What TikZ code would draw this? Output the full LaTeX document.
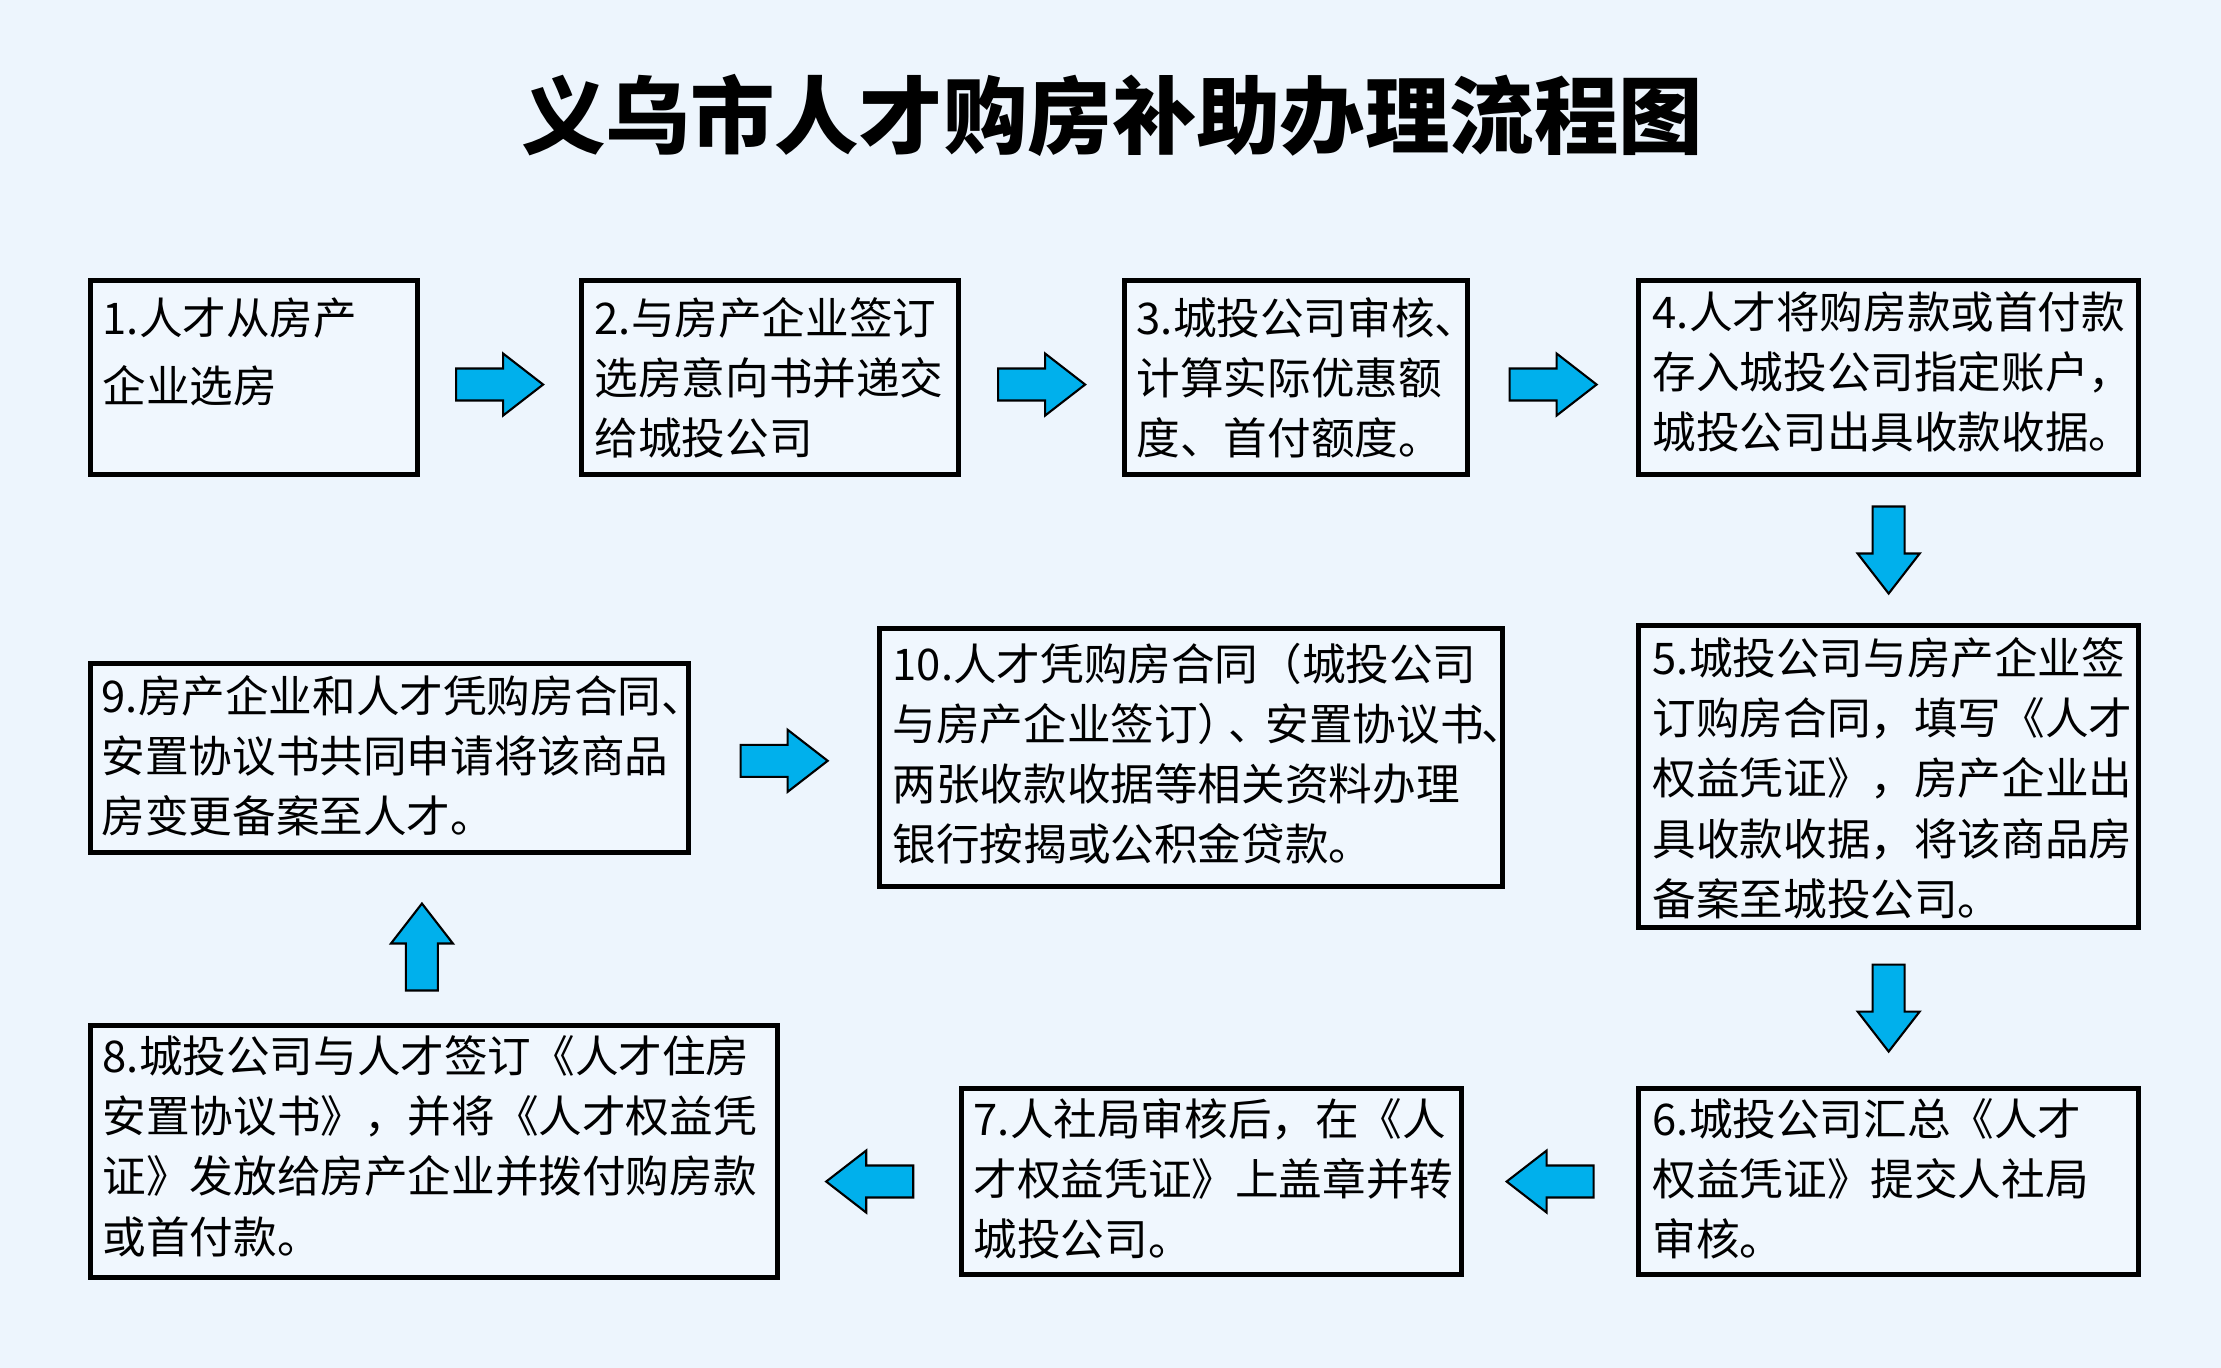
\documentclass[tikz,border=0pt]{standalone}
\usepackage{fontspec}
\setmainfont{Noto Sans CJK SC}
\usetikzlibrary{calc}
\definecolor{bgcol}{RGB}{237,245,253}
\definecolor{boxfill}{RGB}{240,247,254}
\definecolor{arrowblue}{RGB}{0,176,236}
\tikzset{
  stepbox/.style={draw=black, line width=0.05cm, fill=boxfill, rectangle, inner sep=0pt, anchor=north west},
  txt/.style={anchor=north west, inner sep=0pt, align=left, font=\fontsize{12.4pt}{17.1pt}\selectfont},
  barrow/.pic={
    \draw[fill=arrowblue, draw=black, line width=0.6pt, line join=miter]
      (-43.5,-16) -- (3.5,-16) -- (3.5,-31) -- (43.5,0) -- (3.5,31) -- (3.5,16) -- (-43.5,16) -- cycle;
  }
}
\begin{document}
\begin{tikzpicture}[x=0.01cm, y=-0.01cm]
\fill[bgcol] (0,0) rectangle (2221,1368);
\useasboundingbox (0,0) rectangle (2221,1368);

\node[inner sep=0pt, font=\fontsize{24pt}{24pt}\selectfont\bfseries] (title) at (1112,115) {义乌市人才购房补助办理流程图};

% boxes
\node[stepbox, minimum width=3.27cm, minimum height=1.94cm] (b1) at (88,278) {};
\node[stepbox, minimum width=3.77cm, minimum height=1.94cm] (b2) at (579,278) {};
\node[stepbox, minimum width=3.43cm, minimum height=1.94cm] (b3) at (1122,278) {};
\node[stepbox, minimum width=5.00cm, minimum height=1.94cm] (b4) at (1636,278) {};
\node[stepbox, minimum width=5.00cm, minimum height=3.02cm] (b5) at (1636,623) {};
\node[stepbox, minimum width=5.00cm, minimum height=1.86cm] (b6) at (1636,1086) {};
\node[stepbox, minimum width=5.00cm, minimum height=1.86cm] (b7) at (959,1086) {};
\node[stepbox, minimum width=6.87cm, minimum height=2.52cm] (b8) at (88,1023) {};
\node[stepbox, minimum width=5.98cm, minimum height=1.89cm] (b9) at (88,661) {};
\node[stepbox, minimum width=6.23cm, minimum height=2.58cm] (b10) at (877,626) {};

% texts
\node[txt, font=\fontsize{12.4pt}{19.35pt}\selectfont] (t1) at ([xshift=0.14cm, yshift=-0.19cm]b1.north west) {1.人才从房产\\企业选房};
\node[txt] (t2) at ([xshift=0.15cm, yshift=-0.19cm]b2.north west) {2.与房产企业签订\\选房意向书并递交\\给城投公司};
\node[txt] (t3) at ([xshift=0.14cm, yshift=-0.19cm]b3.north west) {3.城投公司审核、\\计算实际优惠额\\度、首付额度。};
\node[txt] (t4) at ([xshift=0.16cm, yshift=-0.13cm]b4.north west) {4.人才将购房款或首付款\\存入城投公司指定账户，\\城投公司出具收款收据。};
\node[txt] (t5) at ([xshift=0.16cm, yshift=-0.14cm]b5.north west) {5.城投公司与房产企业签\\订购房合同，填写《人才\\权益凭证》，房产企业出\\具收款收据，将该商品房\\备案至城投公司。};
\node[txt] (t6) at ([xshift=0.16cm, yshift=-0.12cm]b6.north west) {6.城投公司汇总《人才\\权益凭证》提交人社局\\审核。};
\node[txt] (t7) at ([xshift=0.14cm, yshift=-0.12cm]b7.north west) {7.人社局审核后，在《人\\才权益凭证》上盖章并转\\城投公司。};
\node[txt] (t8) at ([xshift=0.14cm, yshift=-0.12cm]b8.north west) {8.城投公司与人才签订《人才住房\\安置协议书》，并将《人才权益凭\\证》发放给房产企业并拨付购房款\\或首付款。};
\node[txt] (t9) at ([xshift=0.13cm, yshift=-0.14cm]b9.north west) {9.房产企业和人才凭购房合同、\\安置协议书共同申请将该商品\\房变更备案至人才。};
\node[txt] (t10) at ([xshift=0.15cm, yshift=-0.16cm]b10.north west) {10.人才凭购房合同（城投公司\\与房产企业签订）\kern-0.3em、\kern-0.15em安置协议书\kern-0.05em、\\两张收款收据等相关资料办理\\银行按揭或公积金贷款。};

% block arrows between boxes
\pic at ($(b1.east)!0.5!(b2.west)+(0,7)$) {barrow};
\pic at ($(b2.east)!0.5!(b3.west)+(0,7)$) {barrow};
\pic at ($(b3.east)!0.5!(b4.west)+(0,7)$) {barrow};
\pic[rotate=-90] at ($(b4.south)!0.5!(b5.north)$) {barrow};
\pic[rotate=-90] at ($(b5.south)!0.5!(b6.north)$) {barrow};
\pic[rotate=180] at ($(b6.west)!0.5!(b7.east)$) {barrow};
\pic[rotate=180] at ($(b7.west)!0.5!(b8.east|-b7.west)$) {barrow};
\pic[rotate=90] at ($(b9.south)!0.5!(b8.north)+(10,8)$) {barrow};
\pic at ($(b9.east)!0.5!(b10.west)+(0,3)$) {barrow};
\end{tikzpicture}
\end{document}
